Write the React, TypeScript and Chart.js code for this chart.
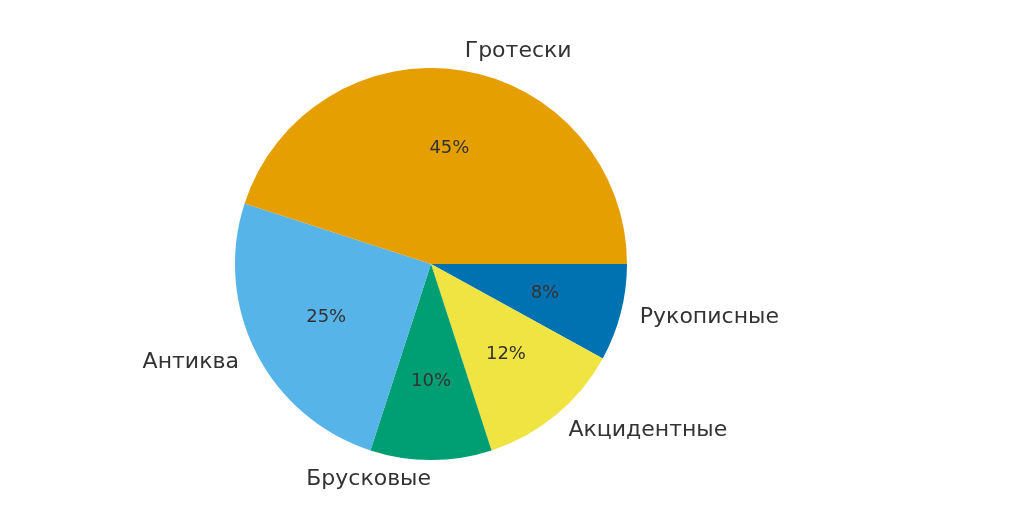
import { Chart, registerables, Plugin } from "chart.js";
import React, { useEffect, useRef } from "react";

Chart.register(...registerables);

// matplotlib draws counterclockwise from 3 o'clock; chart.js draws clockwise,
// so the order is reversed and the start is rotated to 3 o'clock
const categories = ["Рукописные", "Акцидентные", "Брусковые", "Антиква", "Гротески"];
const shares = [8, 12, 10, 25, 45];
const colors = ["#0072B2", "#F0E442", "#009E73", "#56B4E9", "#E69F00"];

const FONT = "'DejaVu Sans', 'Noto Sans', sans-serif";

const pieLabels: Plugin<"pie"> = {
  id: "pieLabels",
  afterDraw(chart) {
    const { ctx } = chart;
    const meta = chart.getDatasetMeta(0);
    const total = shares.reduce((a, b) => a + b, 0);
    ctx.save();
    ctx.fillStyle = "#333333";
    ctx.textBaseline = "middle";
    meta.data.forEach((arc, i) => {
      const { x, y, startAngle, endAngle, outerRadius } = (arc as any).getProps(
        ["x", "y", "startAngle", "endAngle", "outerRadius"],
        true,
      );
      const mid = (startAngle + endAngle) / 2;
      const cos = Math.cos(mid);
      const sin = Math.sin(mid);

      // category label outside (a label straight below hangs to the left, like matplotlib)
      ctx.font = `22px ${FONT}`;
      ctx.textAlign = cos > 1e-6 ? "left" : "right";
      ctx.fillText(categories[i], x + cos * outerRadius * 1.1, y + sin * outerRadius * 1.1);

      // percentage inside
      ctx.font = `18px ${FONT}`;
      ctx.textAlign = "center";
      const pct = Math.round((shares[i] / total) * 100) + "%";
      ctx.fillText(pct, x + cos * outerRadius * 0.6, y + sin * outerRadius * 0.6);
    });
    ctx.restore();
  },
};

const App: React.FC = () => {
  const canvasRef = useRef<HTMLCanvasElement | null>(null);

  useEffect(() => {
    if (!canvasRef.current) return;
    const chart = new Chart(canvasRef.current, {
      type: "pie",
      data: {
        labels: categories,
        datasets: [
          {
            data: shares,
            backgroundColor: colors,
            borderWidth: 0,
          },
        ],
      },
      options: {
        animation: false,
        responsive: true,
        maintainAspectRatio: false,
        rotation: 90,
        layout: {
          padding: { left: 235, right: 397, top: 68, bottom: 69 },
        },
        plugins: {
          legend: { display: false },
          tooltip: { enabled: false },
        },
      },
      plugins: [pieLabels],
    });

    return () => {
      chart.destroy();
    };
  }, []);

  return (
    <div
      style={{
        position: "fixed",
        left: 0,
        top: 0,
        width: 1024,
        height: 529,
        background: "#ffffff",
      }}
    >
      <canvas ref={canvasRef} />
    </div>
  );
};

export default App;
